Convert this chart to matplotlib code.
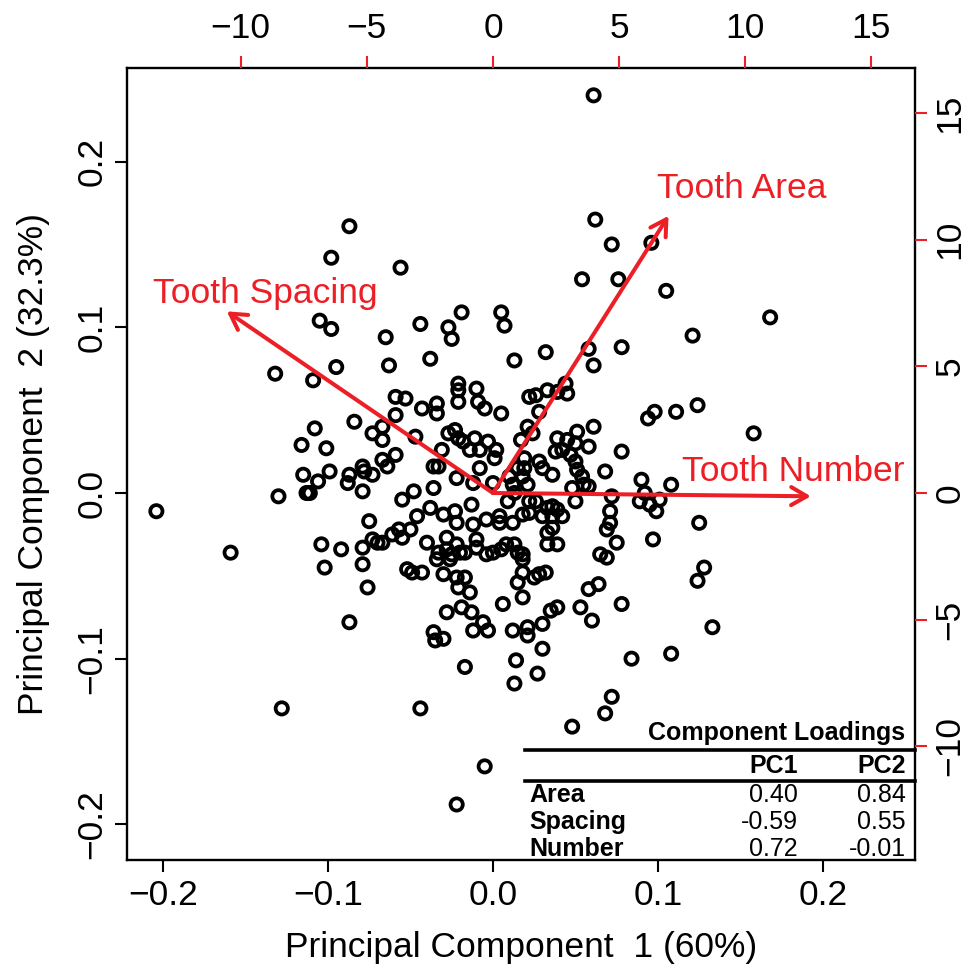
import matplotlib
matplotlib.use('Agg')
import matplotlib.pyplot as plt
from matplotlib.lines import Line2D

plt.rcParams['font.family'] = ['Liberation Sans', 'DejaVu Sans']

# ---------------- data ----------------
pc1 = [0.061, 0.062, 0.072, 0.096, 0.054, 0.076, 0.105, 0.168, -0.087, -0.098,
       -0.056, -0.105, -0.098, -0.044, -0.027, -0.025, -0.019, 0.005, 0.007, -0.065,
       -0.063, -0.038, 0.013, 0.032, 0.121, 0.058, 0.078, 0.061, -0.132, -0.095,
       -0.109, -0.108, -0.116, -0.101, -0.115, -0.099, -0.106, -0.113, -0.111, -0.130,
       -0.087, -0.088, -0.204, -0.159, -0.104, -0.092, -0.102, -0.087, -0.128, -0.084,
       -0.073, -0.079, -0.078, -0.073, -0.079, -0.075, -0.070, -0.073, -0.079, -0.079,
       -0.076, -0.021, -0.021, -0.010, -0.021, -0.009, -0.005, -0.059, -0.053, -0.043,
       -0.034, -0.034, -0.059, 0.005, -0.067, -0.067, -0.047, -0.027, -0.023, -0.021,
       -0.018, -0.011, -0.014, -0.008, -0.003, 0.002, 0.001, -0.031, -0.059, -0.067,
       -0.064, -0.036, -0.033, -0.008, -0.022, -0.012, 0.000, -0.048, -0.055, -0.036,
       -0.038, -0.046, -0.030, -0.023, -0.022, -0.013, -0.012, -0.004, 0.004, 0.004,
       -0.067, -0.061, -0.057, -0.050, -0.055, -0.040, -0.028, -0.022, -0.028, -0.033,
       -0.025, -0.020, -0.017, -0.010, -0.010, -0.004, 0.000, 0.005, -0.034, -0.026,
       -0.052, -0.049, -0.043, -0.030, -0.022, -0.017, -0.021, -0.014, -0.028, -0.019,
       -0.013, 0.006, 0.044, 0.045, 0.039, 0.033, 0.026, 0.022, 0.028, 0.021,
       0.024, 0.017, 0.061, 0.051, 0.039, 0.045, 0.050, 0.058, 0.038, 0.042,
       0.047, 0.050, 0.078, 0.019, 0.015, 0.019, 0.028, 0.030, 0.036, 0.051,
       0.054, 0.055, 0.058, 0.068, 0.010, 0.018, 0.021, 0.012, 0.013, 0.048,
       0.050, 0.072, 0.009, 0.022, 0.026, 0.033, 0.036, 0.039, 0.042, 0.036,
       0.030, 0.036, 0.018, 0.022, 0.012, 0.033, 0.071, 0.071, 0.069, 0.075,
       0.033, 0.039, 0.008, 0.013, 0.015, 0.018, 0.018, 0.065, 0.069, 0.018,
       0.015, 0.025, 0.032, 0.028, 0.018, 0.035, 0.039, 0.053, 0.064, 0.058,
       0.060, 0.078, 0.124, 0.111, 0.098, 0.094, 0.158, 0.090, 0.108, 0.092,
       0.089, 0.095, 0.101, 0.099, 0.097, 0.125, 0.128, 0.124, 0.133, 0.084,
       0.108, 0.072, 0.068, 0.048, -0.006, -0.003, -0.012, -0.036, -0.035, -0.030,
       0.012, 0.021, 0.021, 0.030, 0.030, 0.014, 0.027, 0.013, -0.017, -0.044,
       -0.005, -0.022]
pc2 = [0.240, 0.165, 0.150, 0.151, 0.129, 0.129, 0.122, 0.106, 0.161, 0.142,
       0.136, 0.104, 0.099, 0.102, 0.100, 0.093, 0.109, 0.109, 0.101, 0.094,
       0.077, 0.081, 0.080, 0.085, 0.095, 0.087, 0.088, 0.077, 0.072, 0.076,
       0.068, 0.039, 0.029, 0.027, 0.011, 0.013, 0.007, 0.000, 0.000, -0.002,
       0.011, 0.006, -0.011, -0.036, -0.031, -0.034, -0.045, -0.078, -0.130, 0.043,
       0.036, 0.016, 0.013, 0.011, 0.001, -0.017, -0.030, -0.028, -0.033, -0.043,
       -0.057, 0.066, 0.062, 0.063, 0.055, 0.055, 0.051, 0.058, 0.057, 0.051,
       0.054, 0.048, 0.047, 0.048, 0.040, 0.032, 0.034, 0.036, 0.038, 0.033,
       0.031, 0.033, 0.026, 0.026, 0.031, 0.026, 0.021, 0.026, 0.023, 0.020,
       0.016, 0.016, 0.016, 0.015, 0.009, 0.006, 0.006, 0.001, -0.004, 0.003,
       -0.009, -0.014, -0.013, -0.011, -0.018, -0.007, -0.019, -0.016, -0.014, -0.018,
       -0.030, -0.025, -0.022, -0.022, -0.027, -0.030, -0.027, -0.031, -0.034, -0.036,
       -0.037, -0.036, -0.036, -0.028, -0.033, -0.037, -0.036, -0.034, -0.040, -0.040,
       -0.046, -0.048, -0.048, -0.049, -0.051, -0.051, -0.057, -0.060, -0.072, -0.069,
       -0.072, -0.067, 0.066, 0.060, 0.061, 0.062, 0.059, 0.058, 0.049, 0.040,
       0.036, 0.032, 0.040, 0.037, 0.033, 0.032, 0.030, 0.028, 0.025, 0.026,
       0.023, 0.019, 0.025, 0.021, 0.015, 0.015, 0.019, 0.015, 0.011, 0.014,
       0.010, 0.005, 0.004, 0.013, 0.010, 0.010, 0.005, 0.005, 0.000, 0.003,
       -0.005, -0.002, -0.005, -0.005, -0.005, -0.009, -0.008, -0.010, -0.014, -0.014,
       -0.014, -0.021, -0.013, -0.012, -0.018, -0.024, -0.011, -0.018, -0.022, -0.030,
       -0.031, -0.031, -0.031, -0.031, -0.036, -0.037, -0.040, -0.037, -0.039, -0.048,
       -0.054, -0.051, -0.048, -0.049, -0.063, -0.071, -0.069, -0.069, -0.055, -0.058,
       -0.077, -0.067, 0.053, 0.049, 0.049, 0.045, 0.036, 0.008, 0.005, 0.000,
       -0.005, -0.007, -0.004, -0.011, -0.028, -0.018, -0.045, -0.053, -0.081, -0.100,
       -0.097, -0.123, -0.133, -0.141, -0.078, -0.083, -0.083, -0.084, -0.089, -0.088,
       -0.083, -0.081, -0.086, -0.079, -0.094, -0.101, -0.109, -0.115, -0.105, -0.130,
       -0.165, -0.188]

var_labels = ['Tooth Area', 'Tooth Spacing', 'Tooth Number']
arrow_x = [6.96, -10.55, 12.6]
arrow_y = [10.94, 7.17, -0.13]

table_title = 'Component Loadings'
table_cols = ['PC1', 'PC2']
table_rows = ['Area', 'Spacing', 'Number']
load_pc1 = ['0.40', '-0.59', '0.72']
load_pc2 = ['0.84', '0.55', '-0.01']

xticks = [-0.2, -0.1, 0.0, 0.1, 0.2]
xticklabels = ['\u22120.2', '\u22120.1', '0.0', '0.1', '0.2']
yticks = [-0.2, -0.1, 0.0, 0.1, 0.2]
yticklabels = ['\u22120.2', '\u22120.1', '0.0', '0.1', '0.2']
sec_ticks = [-10, -5, 0, 5, 10, 15]
sec_ticklabels = ['\u221210', '\u22125', '0', '5', '10', '15']

xlabel = 'Principal Component  1 (60%)'
ylabel = 'Principal Component  2 (32.3%)'

# ---------------- layout ----------------
W = 967.0
RED = '#EC1F26'
FS = 25.5


def fpx(x, y):
    return (x / W, 1 - y / W)


left, right, top, bottom = 127, 915, 68, 860
rect = [left / W, 1 - bottom / W, (right - left) / W, (bottom - top) / W]

fig = plt.figure(figsize=(9.67, 9.67), dpi=100)
ax = fig.add_axes(rect)
xlim = (-0.2218, 0.2558)
ylim = (-0.2215, 0.2565)
ax.set_xlim(*xlim)
ax.set_ylim(*ylim)

ax.scatter(pc1, pc2, s=78, facecolors='none', edgecolors='black',
           linewidths=2.7, zorder=2)

ax.set_xticks(xticks)
ax.set_xticklabels(xticklabels)
ax.set_yticks(yticks)
ax.set_yticklabels(yticklabels, rotation=90, va='center')
ax.tick_params(axis='both', direction='out', length=8.5, width=1.5,
               labelsize=FS, pad=5, color='black')
for s in ax.spines.values():
    s.set_linewidth(1.7)
ax.set_xlabel(xlabel, fontsize=FS, labelpad=14)
ax.set_ylabel(ylabel, fontsize=FS, labelpad=18)

# secondary (loadings) axes
R = 65.4
ax2 = fig.add_axes(rect, frameon=False)
ax2.patch.set_visible(False)
ax2.set_xlim(xlim[0] * R, xlim[1] * R)
ax2.set_ylim(ylim[0] * R, ylim[1] * R)
ax2.xaxis.tick_top()
ax2.yaxis.tick_right()
ax2.set_xticks(sec_ticks)
ax2.set_xticklabels(sec_ticklabels)
ax2.set_yticks(sec_ticks)
ax2.set_yticklabels(sec_ticklabels, rotation=90, va='center')
ax2.tick_params(axis='both', direction='out', length=8.5, width=1.5,
                labelsize=FS, pad=5, color=RED, labelcolor='black')
ax2.tick_params(axis='x', pad=8)

for xe, ye in zip(arrow_x, arrow_y):
    ax2.annotate('', xy=(xe, ye), xytext=(0, 0),
                 arrowprops=dict(arrowstyle='->,head_length=0.45,head_width=0.26',
                                 color=RED, lw=2.9, shrinkA=0, shrinkB=0,
                                 mutation_scale=25), zorder=3)

label_offsets = [(-0.44, 0.71), (-2.93, 0.31), (-5.09, 0.60)]
for (xe, ye), lab, (ox, oy) in zip(zip(arrow_x, arrow_y), var_labels, label_offsets):
    ax2.text(xe + ox, ye + oy, lab, color=RED, fontsize=FS,
             ha='left', va='baseline')

# ---------------- loadings table ----------------
TFS = 18
fig.text(*fpx(905, 740), table_title, fontsize=TFS, fontweight='bold',
         ha='right', va='baseline')
for yy in (750, 781):
    fig.add_artist(Line2D([525 / W, 915 / W], [1 - yy / W, 1 - yy / W],
                          color='black', lw=2.6))
col_x = [798, 906]
for cx, c in zip(col_x, table_cols):
    fig.text(*fpx(cx, 773), c, fontsize=TFS, fontweight='bold',
             ha='right', va='baseline')
row_y = [802, 829, 856]
for ry, rname, v1, v2 in zip(row_y, table_rows, load_pc1, load_pc2):
    fig.text(*fpx(529, ry), rname, fontsize=TFS, fontweight='bold',
             ha='left', va='baseline')
    fig.text(*fpx(col_x[0], ry), v1, fontsize=TFS, ha='right', va='baseline')
    fig.text(*fpx(col_x[1], ry), v2, fontsize=TFS, ha='right', va='baseline')

fig.savefig('out.png', dpi=100)
